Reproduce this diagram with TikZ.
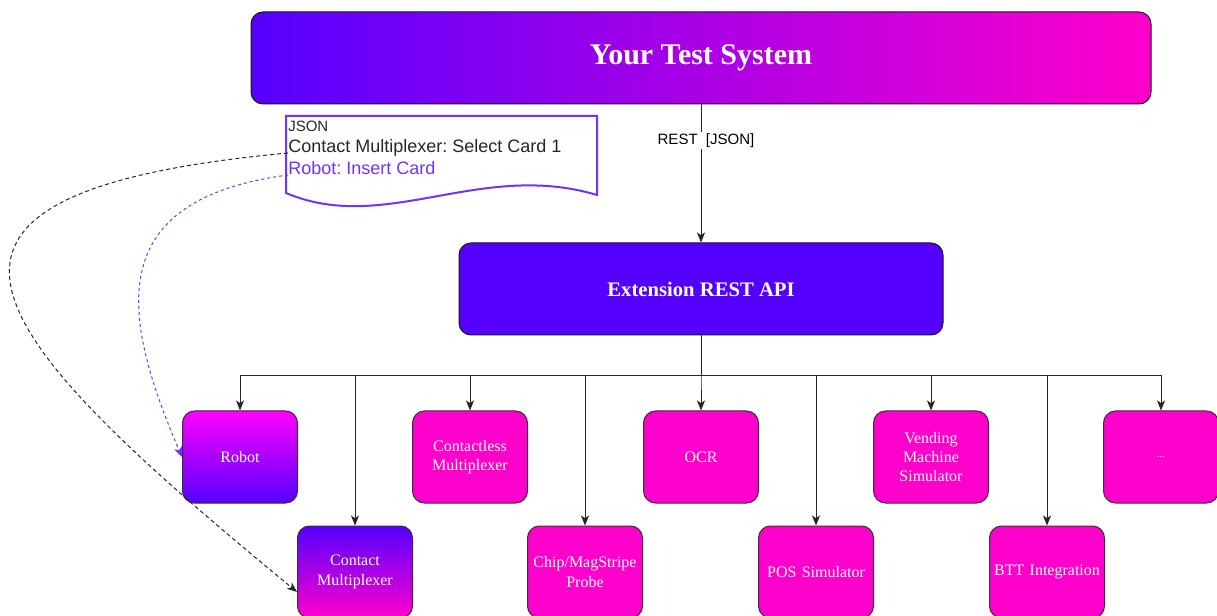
\documentclass[tikz,border=0pt]{standalone}
\usepackage{fontspec}
\setmainfont{Liberation Serif}
\newfontfamily\arialfont{Liberation Sans}
\usetikzlibrary{arrows.meta}
\definecolor{vio}{HTML}{5500FF}
\definecolor{pnk}{HTML}{FF00CC}
\definecolor{mag}{HTML}{FF00FF}
\definecolor{notec}{HTML}{7033FF}
\frenchspacing

\begin{document}
\begin{tikzpicture}[x=0.75pt, y=-0.75pt,
            box/.style={rectangle, rounded corners=9pt, draw=black!80, line width=0.75pt, minimum width=86.25pt, minimum height=69pt, inner sep=1pt, text width=84pt, align=center, fill=pnk, text=white, font=\fontsize{12}{14.6}\selectfont},
            big/.style={rectangle, rounded corners=9pt, draw=black!90, line width=0.75pt, minimum height=69pt, text=white},
            arr/.style={-{Stealth[length=7.5pt,width=6pt,inset=2pt]}, line width=0.75pt, draw=black!85},
            dlink/.style={-{Stealth[length=7.5pt,width=6pt,inset=2pt]}, line width=0.75pt, dash pattern=on 3pt off 2.25pt},
            txt/.style={anchor=base west, inner sep=0pt, font=\arialfont\fontsize{13.5}{16}\selectfont}]
        \path[use as bounding box, clip] (0,0) rectangle (1217,616);

        \node[big, minimum width=675pt, left color=vio, right color=pnk, font=\bfseries\fontsize{22.5}{27}\selectfont] (sys) at (701,58) {Your Test System};
        \node[big, minimum width=363pt, fill=vio, font=\bfseries\fontsize{15.5}{18}\selectfont] (api) at (701,289) {Extension REST API};
        \draw[arr] (sys) -- node[pos=.26, xshift=3.75pt, fill=white, inner sep=1pt, font=\arialfont\fontsize{11.25}{13}\selectfont] {REST\ \ [JSON]} (api);

        \node[box, top color=mag, bottom color=vio] (rob) at (240,457) {Robot};
        \node[box] (cls) at (470,457) {Contactless\\Multiplexer};
        \node[box] (ocr) at (701,457) {OCR};
        \node[box] (vend) at (931,457) {Vending\\Machine\\Simulator};
        \node[box, font=\fontsize{8}{9}\selectfont] (more) at (1161,457) {...};
        \node[box, top color=vio, bottom color=pnk] (cm) at (355,572) {Contact\\Multiplexer};
        \node[box] (chip) at (585,572) {Chip/MagStripe\\Probe};
        \node[box] (pos) at (816,572) {POS Simulator};
        \node[box] (btt) at (1047,572) {BTT Integration};

        \coordinate (bus) at (701,376);
        \foreach \n in {rob,cm,cls,chip,ocr,pos,vend,btt,more}
            \draw[arr] (api.south) -- (bus) -| (\n.north);

        \draw[draw=notec, line width=1.5pt, fill=white] (286,116) -- (597,116) -- (597,195) .. controls (480,160) and (385,235) .. (286,193) -- cycle;
        \node[txt, font=\arialfont\fontsize{11.25}{13}\selectfont, text=black!85] (jtag) at (288,131.5) {JSON};
        \node[txt, text=black!85] (sel) at (288,153) {Contact Multiplexer: Select Card 1};
        \node[txt, text=notec] (ins) at (288,175) {Robot: Insert Card};

        \draw[dlink, black!85] (sel.base west) .. controls +(-430,40) and +(-318,-262) .. ([yshift=-15pt]cm.west);
        \draw[dlink, notec, dash pattern=on 2.25pt off 2.25pt] (ins.base west) .. controls +(-188,25) and +(-60,-140) .. (rob.west);
    \end{tikzpicture}
\end{document}
